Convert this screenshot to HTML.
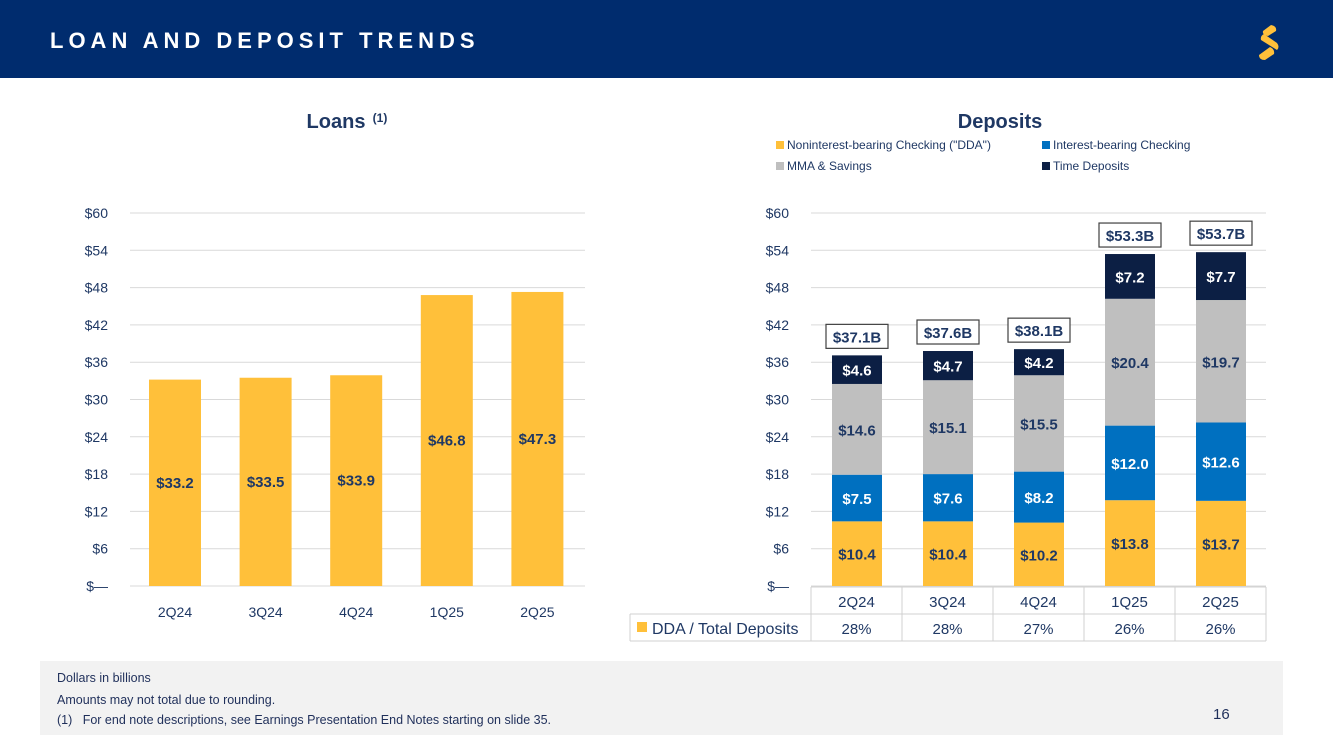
<!DOCTYPE html>
<html><head><meta charset="utf-8"><style>
body{margin:0;width:1333px;height:749px;background:#fff;font-family:"Liberation Sans",sans-serif;overflow:hidden;position:relative}
#hdr{position:absolute;left:0;top:0;width:1333px;height:78px;background:#002C6E}
#title{position:absolute;left:50px;top:28px;color:#fff;font-weight:bold;font-size:22px;letter-spacing:5px}
#foot{position:absolute;left:40px;top:661px;width:1243px;height:74px;background:#F2F2F2;font-size:12.5px;color:#1F2F5A}
</style></head><body>
<div id="hdr">
<div id="title">LOAN AND DEPOSIT TRENDS</div>
<svg style="position:absolute;left:1255px;top:22px" width="32" height="38">
<path d="M8 9 L16 3 Q22 4 21 9 L13 14 Q7 13 8 9Z" fill="#FFC03A"/>
<path d="M6 18 Q5 14 9 12 L22 21 Q25 25 22 28 Z" fill="#FFC03A"/>
<path d="M4 33 L15 25 Q20 27 19 32 L10 38 Q4 38 4 33Z" fill="#FFC03A"/>
</svg>
</div>
<svg id="chart" width="1333" height="660" style="position:absolute;left:0;top:0"></svg>
<div id="foot">
<div style="position:absolute;left:17px;top:10px">Dollars in billions</div>
<div style="position:absolute;left:17px;top:32px">Amounts may not total due to rounding.</div>
<div style="position:absolute;left:17px;top:52px">(1)&nbsp;&nbsp;&nbsp;For end note descriptions, see Earnings Presentation End Notes starting on slide 35.</div>
<div style="position:absolute;left:1173px;top:45px;font-size:15px">16</div>
</div>
<script>
const categories=["2Q24","3Q24","4Q24","1Q25","2Q25"];
const loans=[33.2,33.5,33.9,46.8,47.3];
const dda=[10.4,10.4,10.2,13.8,13.7];
const ibc=[7.5,7.6,8.2,12.0,12.6];
const mma=[14.6,15.1,15.5,20.4,19.7];
const timeDep=[4.6,4.7,4.2,7.2,7.7];
const totals=["$37.1B","$37.6B","$38.1B","$53.3B","$53.7B"];
const ddaRatio=["28%","28%","27%","26%","26%"];
const yTicks=[0,6,12,18,24,30,36,42,48,54,60];
const NS="http://www.w3.org/2000/svg",svg=document.getElementById('chart');
const NAVY="#1F3864";
function el(t,a,txt){const e=document.createElementNS(NS,t);for(const k in a)e.setAttribute(k,a[k]);if(txt!=null)e.textContent=txt;svg.appendChild(e);return e;}
const y=v=>586-v*373/60;
function axis(x0,x1,pre){
 yTicks.forEach(t=>{const l=el('line',{x1:x0,x2:x1,y1:y(t),y2:y(t),stroke:'#D9D9D9'});
 const tx=el('text',{x:x0-22,y:y(t)+5,'text-anchor':'end','font-size':14,fill:NAVY},t===0?'$—':'$'+t);});
}
axis(130,585,'loans-');
const lt=el('text',{x:336,y:128,'text-anchor':'middle','font-size':20,'font-weight':'bold',fill:NAVY},'Loans');

el('text',{x:380,y:122,'text-anchor':'middle','font-size':12,'font-weight':'bold',fill:NAVY},'(1)');
const lx=i=>175+i*90.6;
loans.forEach((v,i)=>{
 const r=el('rect',{x:lx(i)-26,y:y(v),width:52,height:y(0)-y(v),fill:'#FFC03A'});
 const t=el('text',{x:lx(i),y:(y(v)+y(0))/2+5,'text-anchor':'middle','font-size':15,'font-weight':'bold',fill:NAVY},'$'+v.toFixed(1));
 const c=el('text',{x:lx(i),y:617,'text-anchor':'middle','font-size':14,fill:NAVY},categories[i]);
});
axis(811,1266,'deposits-');
const dt=el('text',{x:1000,y:128,'text-anchor':'middle','font-size':20,'font-weight':'bold',fill:NAVY},'Deposits');

const legs=[["Noninterest-bearing Checking (\"DDA\")","#FFC03A",776,149],["Interest-bearing Checking","#0070C0",1042,149],["MMA & Savings","#BFBFBF",776,170],["Time Deposits","#0C1F44",1042,170]];
legs.forEach(l=>{const r=el('rect',{x:l[2],y:l[3]-8,width:8,height:8,fill:l[1]});
 const t=el('text',{x:l[2]+11,y:l[3],'font-size':12,fill:NAVY},l[0]);});
const dx=i=>857+i*91;
const series=[[dda,"#FFC03A",NAVY,'dda'],[ibc,"#0070C0","#fff",'ibc'],[mma,"#BFBFBF",NAVY,'mma'],[timeDep,"#0C1F44","#fff",'time']];
categories.forEach((c,i)=>{
 let b=0;
 series.forEach(s=>{const v=s[0][i];
  const r=el('rect',{x:dx(i)-25,y:y(b+v),width:50,height:y(b)-y(b+v),fill:s[1]});
  const t=el('text',{x:dx(i),y:(y(b)+y(b+v))/2+6,'text-anchor':'middle','font-size':15,'font-weight':'bold',fill:s[2]},'$'+v.toFixed(1));
  b+=v;});
 const top=y(b);
 const bx=el('rect',{x:dx(i)-31,y:top-31,width:62,height:24,fill:'#fff',stroke:'#404040','stroke-width':1.2});
 const tt=el('text',{x:dx(i),y:top-13,'text-anchor':'middle','font-size':15,'font-weight':'bold',fill:NAVY},totals[i]);
});
const tb=(a)=>el('line',Object.assign({stroke:'#D0D0D0'},a));
tb({x1:811,x2:1266,y1:587,y2:587});tb({x1:630,x2:1266,y1:614,y2:614});tb({x1:630,x2:1266,y1:641,y2:641});
tb({x1:630,x2:630,y1:614,y2:641});
for(let k=0;k<=5;k++)tb({x1:811+k*91,x2:811+k*91,y1:587,y2:641});
categories.forEach((c,i)=>{
 const t=el('text',{x:dx(i)-0.5,y:607,'text-anchor':'middle','font-size':15,fill:NAVY},c);
 const r=el('text',{x:dx(i)-0.5,y:634,'text-anchor':'middle','font-size':15,fill:NAVY},ddaRatio[i]);
});
el('rect',{x:637,y:622,width:10,height:10,fill:'#FFC03A'});
const rl=el('text',{x:652,y:634,'font-size':16,fill:NAVY},'DDA / Total Deposits');
</script>
</body></html>
